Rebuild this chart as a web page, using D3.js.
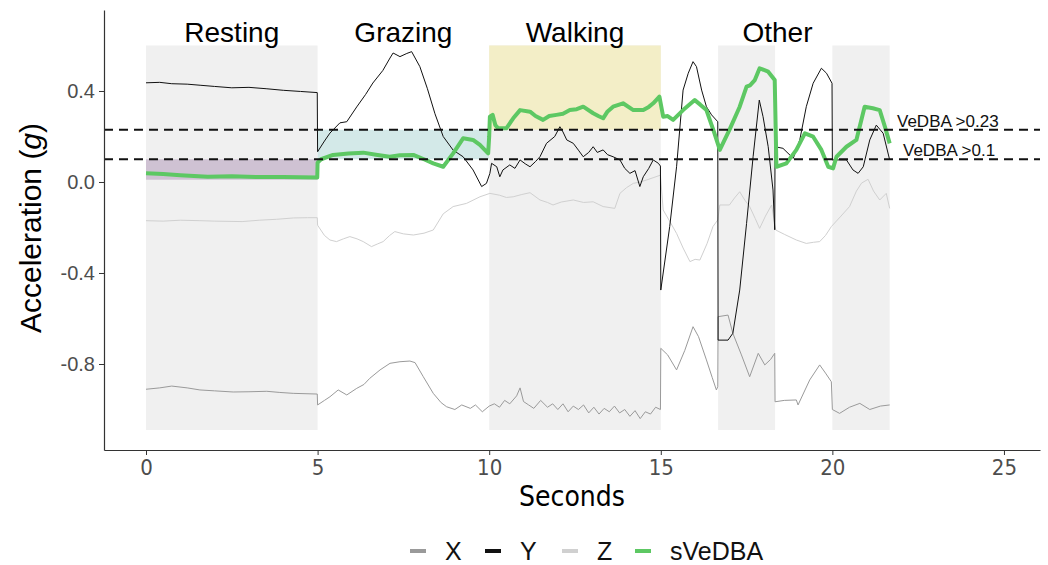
<!DOCTYPE html>
<html>
<head>
<meta charset="utf-8">
<script src="https://cdn.jsdelivr.net/npm/d3@7/dist/d3.min.js"></script>
<style>
  body { margin: 0; background: #fff; }
  svg { display: block; }
  .narrow { font-family: "Liberation Sans Narrow", "DejaVu Sans Condensed", "Liberation Sans", sans-serif; }
  .sans { font-family: "Liberation Sans", Arial, sans-serif; }
</style>
</head>
<body>
<div id="chart"></div>
<script>
// behaviour windows (seconds)
var behaviours = ["Resting", "Grazing", "Walking", "Other"];
var behaviourLabelT = [2.5, 7.5, 12.5, 18.4];
var grayBands = [[0, 5], [10, 15], [16.67, 18.33], [20.0, 21.67]];
var bandTop = 0.6, bandBottom = -1.09;
// coloured threshold boxes
var boxT = [[0, 5], [5, 10], [10, 15]];
var boxV = [[0.01, 0.1], [0.1, 0.23], [0.23, 0.6]];
var boxColours = ["#cfc2d3", "#d3e9e8", "#f3eec7"];
var thresholds = [0.23, 0.1];
var thresholdLabels = ["VeDBA >0.23", "VeDBA >0.1"];

var xTicks = [0, 5, 10, 15, 20, 25];
var yTicks = [0.4, 0.0, -0.4, -0.8];

// Y axis (black)
var yT = [0, 0.4, 0.75, 1.2, 1.6, 2.0, 2.5, 3.0, 3.5, 4.0, 4.5, 4.99, 5.0, 5.2, 5.36, 5.65, 5.85, 6.14, 6.4, 6.61, 6.9, 7.11, 7.2, 7.4, 7.6, 7.74, 7.98, 8.2, 8.42, 8.66, 8.95, 9.24, 9.53, 9.78, 9.92, 10.02, 10.07, 10.22, 10.31, 10.4, 10.6, 10.75, 10.9, 11.05, 11.19, 11.35, 11.48, 11.67, 11.91, 12.06, 12.15, 12.26, 12.45, 12.6, 12.74, 12.9, 13.03, 13.15, 13.32, 13.45, 13.61, 13.81, 13.95, 14.1, 14.25, 14.39, 14.49, 14.65, 14.78, 14.93, 14.99, 15.0, 15.26, 15.46, 15.65, 15.8, 15.94, 16.04, 16.19, 16.33, 16.48, 16.66, 16.67, 16.96, 17.1, 17.3, 17.5, 17.69, 17.87, 17.98, 18.13, 18.27, 18.32, 18.33, 18.56, 18.86, 19.05, 19.24, 19.44, 19.68, 19.83, 19.99, 20.0, 20.21, 20.41, 20.6, 20.75, 20.9, 21.09, 21.28, 21.48, 21.67];
var yV = [0.436, 0.438, 0.432, 0.43, 0.425, 0.42, 0.414, 0.416, 0.41, 0.403, 0.398, 0.393, 0.133, 0.18, 0.215, 0.26, 0.265, 0.33, 0.385, 0.435, 0.49, 0.545, 0.567, 0.551, 0.565, 0.573, 0.507, 0.41, 0.3, 0.2, 0.14, 0.111, 0.053, -0.02, -0.006, 0.038, 0.082, 0.067, 0.023, 0.053, 0.075, 0.06, 0.097, 0.08, 0.067, 0.09, 0.111, 0.17, 0.2, 0.243, 0.22, 0.185, 0.17, 0.14, 0.111, 0.13, 0.155, 0.13, 0.141, 0.12, 0.111, 0.097, 0.06, 0.038, 0.05, -0.02, 0.023, 0.06, 0.097, 0.082, 0.07, -0.475, -0.196, 0.067, 0.404, 0.478, 0.529, 0.507, 0.404, 0.331, 0.295, 0.265, -0.695, -0.695, -0.665, -0.475, -0.182, 0.111, 0.36, 0.287, 0.155, -0.035, -0.21, 0.155, 0.148, 0.104, 0.185, 0.331, 0.434, 0.5, 0.478, 0.434, 0.097, 0.097, 0.097, 0.053, 0.038, 0.067, 0.185, 0.25, 0.214, 0.097];

// X axis (mid grey)
var xT = [0, 0.4, 0.75, 1.2, 1.57, 2.0, 2.54, 3.0, 3.52, 3.9, 4.29, 4.99, 5.0, 5.2, 5.36, 5.6, 5.85, 6.14, 6.35, 6.52, 6.82, 7.11, 7.4, 7.69, 7.84, 8.08, 8.37, 8.6, 8.76, 9.0, 9.2, 9.45, 9.6, 9.8, 10.0, 10.15, 10.3, 10.45, 10.6, 10.8, 10.9, 11.0, 11.15, 11.3, 11.5, 11.7, 11.85, 12.0, 12.15, 12.3, 12.45, 12.6, 12.75, 12.9, 13.05, 13.2, 13.35, 13.5, 13.65, 13.8, 13.95, 14.1, 14.25, 14.4, 14.55, 14.7, 14.85, 14.99, 15.0, 15.2, 15.46, 15.7, 15.94, 16.1, 16.33, 16.5, 16.62, 16.66, 16.67, 16.96, 17.1, 17.35, 17.59, 17.84, 18.03, 18.2, 18.32, 18.33, 18.6, 18.95, 19.0, 19.34, 19.63, 19.8, 19.97, 20.0, 20.21, 20.5, 20.8, 21.09, 21.4, 21.67];
var xV = [-0.911, -0.905, -0.897, -0.905, -0.914, -0.918, -0.923, -0.922, -0.92, -0.925, -0.929, -0.932, -0.98, -0.96, -0.944, -0.914, -0.936, -0.907, -0.89, -0.863, -0.826, -0.797, -0.79, -0.787, -0.794, -0.856, -0.929, -0.97, -0.988, -1.0, -0.98, -0.995, -0.98, -1.01, -0.985, -0.975, -0.99, -0.96, -0.975, -0.94, -0.905, -0.965, -0.98, -0.995, -0.96, -0.99, -0.975, -1.0, -0.975, -1.01, -0.985, -1.0, -0.98, -1.015, -0.99, -1.02, -0.995, -1.01, -0.985, -1.015, -1.0, -1.03, -1.005, -1.04, -1.01, -1.02, -0.99, -1.0, -0.731, -0.76, -0.826, -0.74, -0.636, -0.68, -0.782, -0.86, -0.914, -0.9, -0.592, -0.585, -0.665, -0.76, -0.856, -0.753, -0.804, -0.78, -0.753, -0.966, -0.96, -0.958, -0.98, -0.87, -0.804, -0.84, -0.878, -1.0, -1.017, -0.99, -0.973, -1.0, -0.985, -0.98];

// Z axis (light grey)
var zT = [0, 0.5, 1.0, 1.57, 2.0, 2.8, 3.3, 3.8, 4.3, 4.7, 4.99, 5.0, 5.2, 5.36, 5.55, 5.75, 5.94, 6.15, 6.33, 6.57, 6.75, 6.91, 7.1, 7.25, 7.5, 7.79, 8.1, 8.37, 8.66, 8.95, 9.34, 9.73, 10.02, 10.3, 10.5, 10.7, 10.95, 11.19, 11.48, 11.7, 11.86, 12.1, 12.45, 12.75, 13.03, 13.32, 13.66, 13.81, 14.0, 14.2, 14.4, 14.59, 14.8, 14.99, 15.07, 15.25, 15.46, 15.65, 15.85, 16.0, 16.14, 16.35, 16.52, 16.66, 16.72, 17.0, 17.15, 17.3, 17.45, 17.59, 17.75, 17.88, 18.05, 18.23, 18.35, 18.6, 18.95, 19.24, 19.45, 19.63, 19.8, 19.97, 20.25, 20.5, 20.7, 20.85, 21.04, 21.2, 21.38, 21.57, 21.67];
var zV = [-0.17, -0.172, -0.168, -0.17, -0.172, -0.174, -0.168, -0.164, -0.158, -0.157, -0.157, -0.19, -0.235, -0.255, -0.262, -0.25, -0.24, -0.25, -0.262, -0.284, -0.272, -0.262, -0.235, -0.218, -0.228, -0.233, -0.225, -0.211, -0.14, -0.108, -0.094, -0.065, -0.05, -0.058, -0.068, -0.065, -0.055, -0.047, -0.079, -0.09, -0.101, -0.088, -0.079, -0.09, -0.087, -0.108, -0.116, -0.05, -0.025, -0.006, 0.0, 0.009, 0.02, 0.03, -0.123, -0.17, -0.226, -0.29, -0.35, -0.34, -0.343, -0.27, -0.196, -0.167, -0.101, -0.101, -0.07, -0.043, -0.08, -0.108, -0.16, -0.204, -0.15, -0.101, -0.211, -0.23, -0.255, -0.27, -0.265, -0.262, -0.235, -0.196, -0.15, -0.108, -0.04, -0.005, 0.012, -0.04, -0.079, -0.05, -0.116];

// smoothed VeDBA (green)
var sT = [0, 0.5, 1.0, 1.8, 2.5, 3.2, 4.0, 4.99, 5.0, 5.1, 5.45, 5.9, 6.33, 6.7, 7.1, 7.4, 7.79, 8.1, 8.37, 8.66, 8.95, 9.24, 9.53, 9.73, 9.97, 10.0, 10.02, 10.1, 10.18, 10.26, 10.5, 10.7, 10.9, 11.19, 11.35, 11.57, 11.75, 11.96, 12.15, 12.35, 12.55, 12.74, 13.03, 13.18, 13.32, 13.45, 13.61, 13.9, 14.2, 14.49, 14.65, 14.78, 14.96, 15.07, 15.2, 15.36, 15.65, 15.99, 16.15, 16.33, 16.55, 16.72, 17.0, 17.3, 17.5, 17.6, 17.74, 17.88, 18.13, 18.32, 18.37, 18.66, 18.95, 19.2, 19.44, 19.68, 19.88, 20.02, 20.12, 20.41, 20.7, 20.94, 21.18, 21.38, 21.53, 21.67];
var sV = [0.038, 0.035, 0.03, 0.023, 0.025, 0.022, 0.022, 0.02, 0.085, 0.1, 0.119, 0.125, 0.129, 0.12, 0.111, 0.118, 0.119, 0.1, 0.082, 0.067, 0.126, 0.192, 0.185, 0.163, 0.126, 0.2, 0.287, 0.295, 0.25, 0.236, 0.236, 0.28, 0.316, 0.309, 0.29, 0.273, 0.29, 0.295, 0.3, 0.316, 0.32, 0.331, 0.302, 0.29, 0.28, 0.31, 0.331, 0.346, 0.316, 0.316, 0.33, 0.346, 0.375, 0.287, 0.29, 0.273, 0.316, 0.36, 0.34, 0.316, 0.22, 0.141, 0.229, 0.331, 0.419, 0.425, 0.448, 0.5, 0.485, 0.448, 0.067, 0.082, 0.141, 0.214, 0.199, 0.141, 0.067, 0.06, 0.111, 0.155, 0.185, 0.331, 0.324, 0.316, 0.243, 0.17];

var seriesNames = ["X", "Y", "Z", "sVeDBA"];
var seriesColours = ["#9a9a9a", "#111111", "#d0d0d0", "#5dc863"];

// chart parameters
var width = 1048, height = 565;
var plot = {left: 104, right: 1040, top: 10, bottom: 450};

var svg = d3.select("#chart").append("svg")
  .attr("width", width)
  .attr("height", height);

var x = d3.scaleLinear().domain([-1.224, 26.05]).range([plot.left, plot.right]);
var y = d3.scaleLinear().domain([-1.178, 0.756]).range([plot.bottom, plot.top]);

// grey behaviour bands
svg.append("g").selectAll("rect")
  .data(grayBands)
  .enter().append("rect")
  .attr("x", function(d) { return x(d[0]); })
  .attr("width", function(d) { return x(d[1]) - x(d[0]); })
  .attr("y", y(bandTop))
  .attr("height", y(bandBottom) - y(bandTop))
  .attr("fill", "#f0f0f0");

// threshold boxes
svg.append("g").selectAll("rect")
  .data(boxT)
  .enter().append("rect")
  .attr("x", function(d) { return x(d[0]); })
  .attr("width", function(d) { return x(d[1]) - x(d[0]); })
  .attr("y", function(d, i) { return y(boxV[i][1]); })
  .attr("height", function(d, i) { return y(boxV[i][0]) - y(boxV[i][1]); })
  .attr("fill", function(d, i) { return boxColours[i]; });

var line = d3.line()
  .x(function(d) { return x(d[0]); })
  .y(function(d) { return y(d[1]); });

var zip = function(ts, vs) { return ts.map(function(t, i) { return [t, vs[i]]; }); };
var series = [zip(xT, xV), zip(yT, yV), zip(zT, zV), zip(sT, sV)];
var drawOrder = [2, 0, 1, 3];

drawOrder.forEach(function(i) {
  svg.append("path")
    .datum(series[i])
    .attr("fill", "none")
    .attr("stroke", seriesColours[i])
    .attr("stroke-width", i === 3 ? 4 : 1)
    .attr("stroke-linejoin", "round")
    .attr("d", line);
});

// threshold lines
svg.append("g").selectAll("line")
  .data(thresholds)
  .enter().append("line")
  .attr("x1", plot.left).attr("x2", plot.right)
  .attr("y1", function(d) { return y(d); })
  .attr("y2", function(d) { return y(d); })
  .attr("stroke", "#111")
  .attr("stroke-width", 2)
  .attr("stroke-dasharray", "9,6");

svg.append("g").selectAll("text")
  .data(thresholdLabels)
  .enter().append("text")
  .attr("class", "sans")
  .attr("x", function(d, i) { return i === 0 ? 897 : 903; })
  .attr("y", function(d, i) { return y(thresholds[i]) - 3; })
  .attr("font-size", 17)
  .attr("fill", "#111")
  .text(function(d) { return d; });

// behaviour labels
svg.append("g").selectAll("text")
  .data(behaviours)
  .enter().append("text")
  .attr("class", "sans")
  .attr("x", function(d, i) { return x(behaviourLabelT[i]); })
  .attr("y", 42)
  .attr("text-anchor", "middle")
  .attr("font-size", 28)
  .attr("fill", "#000")
  .text(function(d) { return d; });

// axes
var xAxis = d3.axisBottom(x).tickValues(xTicks).tickSizeInner(5).tickSizeOuter(0).tickPadding(4);
var yAxis = d3.axisLeft(y).tickValues(yTicks).tickFormat(d3.format(".1f")).tickSizeInner(5).tickSizeOuter(0).tickPadding(4);

var gx = svg.append("g")
  .attr("transform", "translate(0," + plot.bottom + ")")
  .call(xAxis);
gx.select(".domain").attr("stroke", "#333").attr("stroke-width", 1.2);
gx.selectAll(".tick line").attr("stroke", "#333");
gx.selectAll(".tick text")
  .attr("class", "narrow")
  .attr("font-size", 22)
  .attr("fill", "#4d4d4d");

var gy = svg.append("g")
  .attr("transform", "translate(" + plot.left + ",0)")
  .call(yAxis);
gy.select(".domain").attr("stroke", "#333").attr("stroke-width", 1.2);
gy.selectAll(".tick line").attr("stroke", "#333");
gy.selectAll(".tick text")
  .attr("class", "sans")
  .attr("font-size", 20)
  .attr("fill", "#4d4d4d")
  .text(function(d) { return d3.format(".1f")(d).replace("−", "-"); });

// axis titles
svg.append("text")
  .attr("class", "narrow")
  .attr("x", (plot.left + plot.right) / 2)
  .attr("y", 506)
  .attr("text-anchor", "middle")
  .attr("font-size", 28)
  .attr("fill", "#000")
  .text("Seconds");

var yTitle = svg.append("text")
  .attr("class", "sans")
  .attr("transform", "translate(41," + ((plot.top + plot.bottom) / 2 - 2) + ") rotate(-90)")
  .attr("text-anchor", "middle")
  .attr("font-size", 30)
  .attr("fill", "#000");
yTitle.append("tspan").text("Acceleration (");
yTitle.append("tspan").attr("font-style", "italic").text("g");
yTitle.append("tspan").text(")");

// legend
var legendKeyX = [410, 485, 562, 635];
var legend = svg.append("g").selectAll("g")
  .data(seriesNames)
  .enter().append("g")
  .attr("transform", function(d, i) { return "translate(" + legendKeyX[i] + ",551)"; });
legend.append("line")
  .attr("x1", 0).attr("x2", 16)
  .attr("stroke", function(d, i) { return seriesColours[i]; })
  .attr("stroke-width", 4);
legend.append("text")
  .attr("class", "sans")
  .attr("x", 35)
  .attr("y", 9)
  .attr("font-size", 25)
  .attr("fill", "#111")
  .text(function(d) { return d; });
</script>
</body>
</html>
